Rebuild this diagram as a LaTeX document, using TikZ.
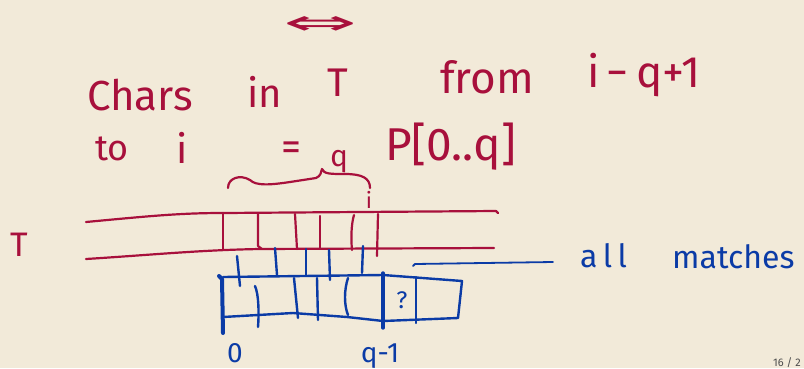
\documentclass[tikz,border=0pt]{standalone}
\usepackage{fontspec}
\setmainfont{Fira Sans}
\newfontfamily\symbfont{DejaVu Sans}
\definecolor{bgpaper}{HTML}{F2EAD9}
\definecolor{inkred}{HTML}{A8103C}
\definecolor{inkblue}{HTML}{0B3BA6}
\begin{document}
\begin{tikzpicture}[x=1pt,y=-1pt,
  redword/.style={text=inkred,inner sep=0pt,anchor=base west,font=\fontsize{40}{40}\selectfont},
  blueword/.style={text=inkblue,inner sep=0pt,anchor=base west,font=\fontsize{32}{32}\selectfont},
  redline/.style={draw=inkred,line width=2.2pt,line cap=round,line join=round},
  blueline/.style={draw=inkblue,line width=2.4pt,line cap=round,line join=round},
  thickblue/.style={blueline,line width=4pt}]
\fill[bgpaper] (0,0) rectangle (804,368);
\useasboundingbox (0,0) rectangle (804,368);
% top symbol
\node[text=inkred,inner sep=0pt,font=\symbfont\fontsize{34}{34}\selectfont,xscale=2.6,anchor=base] (iff) at (321,34) {⇔};
% line 1
\node[redword,font=\fontsize{42}{42}\selectfont] (chars) at (87,110) {Chars};
\node[redword] (in) at (247,107) {in};
\node[redword] (tt) at (327,96) {T};
\node[redword,font=\fontsize{44}{44}\selectfont] (from) at (440,93) {from};
\node[redword,font=\fontsize{44}{44}\selectfont] (iq) at (587,87) {i\,−\,q+1};
% line 2
\node[redword,font=\fontsize{36}{36}\selectfont] (to) at (95,160) {to};
\node[redword] (i2) at (176,163) {i};
\node[redword] (eq) at (281,160) {=};
\node[redword,font=\fontsize{30}{30}\selectfont] (qs) at (330,166) {q};
\node[redword,font=\fontsize{46}{46}\selectfont] (p) at (385,160) {P[0..q]};
% brace
\draw[redline] (228,188) .. controls (228,178) and (240,174) .. (250,180)
  .. controls (256,186) and (270,185) .. (290,182) -- (316,178)
  .. controls (321,176) and (321,172) .. (322,169)
  .. controls (324,174) and (330,174) .. (345,174)
  .. controls (362,174) and (370,178) .. (370,188);
\node[redword,font=\fontsize{22}{22}\selectfont,anchor=base] (iabove) at (369,208) {i};
% T label and text lines
\node[redword,font=\fontsize{34}{34}\selectfont] (tlab) at (10,256) {T};
\draw[redline] (86,222) .. controls (150,216) and (180,213) .. (223,213) -- (496,211) -- (498,213);
\draw[redline] (86,259) .. controls (150,255) and (200,250) .. (260,249) -- (494,248);
\draw[redline] (223,213) -- (223,249);
\draw[redline] (258,214) -- (258,246) -- (262,249);
\draw[redline] (295,214) -- (297,249);
\draw[redline] (320,216) -- (320,248);
\draw[redline] (354,215) .. controls (351,225) and (351,240) .. (352,250);
\draw[redline] (378,214) -- (377,256);
% shifted pattern ticks
\draw[blueline] (237,256) -- (240,286);
\draw[blueline] (275,248) -- (277,275);
\draw[blueline] (306,249) -- (306,275);
\draw[blueline] (329,250) -- (330,280);
\draw[blueline] (363,246) -- (362,273);
% pattern box
\draw[blueline] (223,277) -- (383,275) -- (462,281) -- (458,318) -- (383,321) -- (347,317) -- (293,313) -- (223,317);
\draw[thickblue] (219,276) -- (222,279) -- (223,333);
\draw[blueline] (255,286) .. controls (259,295) and (259,315) .. (258,327);
\draw[blueline] (294,278) -- (298,318);
\draw[blueline] (317,278) -- (318,320);
\draw[blueline] (348,278) .. controls (344,290) and (344,305) .. (348,315);
\draw[thickblue,line width=3.4pt] (383,273) -- (383,328);
\draw[blueline] (416,277) -- (416,323);
\node[blueword,font=\fontsize{24}{24}\selectfont,anchor=center] (qm) at (402,300) {?};
% right line and label
\draw[blueline,line width=1.8pt] (413,266) -- (415,264) -- (553,262);
\node[blueword] (all) at (580,267) {a\,l\,l};
\node[blueword] (matches) at (672,268) {matches};
% index labels
\node[blueword,font=\fontsize{28}{28}\selectfont,anchor=base] (zero) at (235,362) {0};
\node[blueword,font=\fontsize{28}{28}\selectfont,anchor=base] (qm1) at (380,362) {q-1};
% page number
\node[text=black!70,inner sep=0pt,anchor=north west,font=\fontsize{11}{11}\selectfont] (pg) at (773,357) {16 / 2};
\end{tikzpicture}
\end{document}
